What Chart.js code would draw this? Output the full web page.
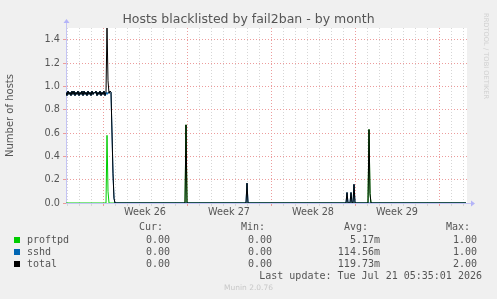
<!DOCTYPE html>
<html>
<head>
<meta charset="utf-8">
<title>Hosts blacklisted by fail2ban - by month</title>
<script src="https://cdn.jsdelivr.net/npm/chart.js@4.4.1/dist/chart.umd.min.js"></script>
<style>
  html, body { margin: 0; padding: 0; background: #f0f0f0; }
  #wrap { position: relative; width: 497px; height: 299px; overflow: hidden; }
  #chart { position: absolute; left: 0; top: 0; }
  #title { position: absolute; left: 0; top: 11px; width: 497px; text-align: center;
           font-family: "DejaVu Sans", sans-serif; font-size: 12.5px; line-height: 15px; color: #555; }
  .mono { position: absolute; font-family: "DejaVu Sans Mono", monospace; font-size: 10px;
          line-height: 12px; color: #555; white-space: pre; }
  .sq { position: absolute; width: 6px; height: 6px; }
  #munin { position: absolute; left: 0; width: 497px; top: 283px; text-align: center;
           font-family: "DejaVu Sans", sans-serif; font-size: 7.5px; line-height: 9px; color: #c8c8c8; }
  #rrd { position: absolute; left: 490px; top: 13px; transform: rotate(90deg); transform-origin: left top;
         font-family: "DejaVu Sans", sans-serif; font-size: 6.7px; line-height: 8px; color: #d0d0d0; white-space: pre; }
</style>
</head>
<body>
<div id="wrap">
  <canvas id="chart" width="497" height="299"></canvas>
  <div id="title">Hosts blacklisted by fail2ban - by month</div>
  <div id="legend"></div>
  <div id="munin">Munin 2.0.76</div>
  <div id="rrd">RRDTOOL / TOBI OETIKER</div>
</div>
<script>
/* ---- data (x = hours since start of week 26, one sample every 2h) ---- */
var hours = [
  -74, -72, -70, -68, -66, -64, -62, -60, -58, -56,
  -54, -52, -50, -48, -46, -44, -42, -40, -38, -36,
  -34, -32, -30, -28, -26, -24, -22, -20, -18, -16,
  -14, -12, -10,  -8,  -6,  -4,  -2,   0,   2,   4,
    6,   8,  10,  12,  14,  16,  18,  20,  22,  24,
  162, 164, 166, 168, 170,
  284, 286, 288, 290, 292,
  484, 486, 488, 490, 492, 494, 496, 498, 500, 502, 504, 506, 508,
  528, 530, 532, 534, 536, 538,
  726
];

var proftpd = [
  0, 0, 0, 0, 0, 0, 0, 0, 0, 0,
  0, 0, 0, 0, 0, 0, 0, 0, 0, 0,
  0, 0, 0, 0, 0, 0, 0, 0, 0, 0,
  0, 0, 0, 0, 0, 0, 0, 0, 0, 0,
  0, 0.58, 0.10, 0, 0, 0, 0, 0, 0, 0,
  0, 0, 0.67, 0, 0,
  0, 0, 0, 0, 0,
  0, 0, 0, 0, 0, 0, 0, 0, 0, 0, 0, 0, 0,
  0, 0, 0.63, 0.08, 0, 0,
  0
];

var sshd = [
  0.95, 0.92, 0.96, 0.93, 0.95, 0.92, 0.96, 0.93, 0.96, 0.92,
  0.95, 0.93, 0.96, 0.92, 0.95, 0.93, 0.96, 0.92, 0.96, 0.93,
  0.95, 0.92, 0.96, 0.93, 0.95, 0.92, 0.96, 0.93, 0.95, 0.94,
  0.96, 0.92, 0.95, 0.93, 0.96, 0.92, 0.95, 0.93, 0.96, 0.92,
  0.95, 0.93, 0.95, 0.94, 0.96, 0.95, 0.60, 0.25, 0.04, 0,
  0, 0, 0, 0, 0,
  0, 0, 0.17, 0, 0,
  0, 0, 0.09, 0, 0, 0, 0.09, 0, 0, 0.16, 0, 0, 0,
  0, 0, 0, 0, 0, 0,
  0
];

var total = [
  0.95, 0.92, 0.96, 0.93, 0.95, 0.92, 0.96, 0.93, 0.96, 0.92,
  0.95, 0.93, 0.96, 0.92, 0.95, 0.93, 0.96, 0.92, 0.96, 0.93,
  0.95, 0.92, 0.96, 0.93, 0.95, 0.92, 0.96, 0.93, 0.95, 0.94,
  0.96, 0.92, 0.95, 0.93, 0.96, 0.92, 0.95, 0.93, 0.96, 0.92,
  0.95, 1.51, 1.05, 0.94, 0.96, 0.95, 0.60, 0.25, 0.04, 0,
  0, 0, 0.67, 0, 0,
  0, 0, 0.17, 0, 0,
  0, 0, 0.09, 0, 0, 0, 0.09, 0, 0, 0.16, 0, 0, 0,
  0, 0, 0.63, 0.08, 0, 0,
  0
];

var weekLabels = ['Week 26', 'Week 27', 'Week 28', 'Week 29'];
var weekMidHours = [84, 252, 420, 588];
var yLabels = ['0.0', '0.2', '0.4', '0.6', '0.8', '1.0', '1.2', '1.4'];

/* legend / stats */
var seriesNames = ['proftpd', 'sshd', 'total'];
var seriesColors = ['#00cc00', '#0066b3', '#000000'];
var statCur = ['0.00', '0.00', '0.00'];
var statMin = ['0.00', '0.00', '0.00'];
var statAvg = ['5.17m', '114.56m', '119.73m'];
var statMax = ['1.00', '1.00', '2.00'];
var lastUpdate = 'Last update: Tue Jul 21 05:35:01 2026';

var GRID = '#d6d6d6';
var MGRID = '#ec9c9c';
var AXIS = '#c4c4f4';

function toPoints(values) {
  return values.map(function(v, i) { return { x: hours[i], y: v }; });
}

/* white canvas + rrdtool style axis arrows */
var muninFrame = {
  id: 'muninFrame',
  beforeDraw: function(chart) {
    var a = chart.chartArea, ctx = chart.ctx;
    ctx.save();
    ctx.fillStyle = '#ffffff';
    ctx.fillRect(a.left, a.top, a.right - a.left, a.bottom - a.top);
    ctx.restore();
  },
  afterDraw: function(chart) {
    var a = chart.chartArea, ctx = chart.ctx;
    var x0 = Math.round(a.left) + 0.5, y0 = Math.round(a.bottom) + 0.5;
    ctx.save();
    ctx.strokeStyle = AXIS;
    ctx.fillStyle = '#b4b4f8';
    ctx.lineWidth = 1;
    ctx.beginPath();
    ctx.moveTo(x0, a.top);
    ctx.lineTo(x0, a.top - 5);
    ctx.moveTo(a.right, y0);
    ctx.lineTo(a.right + 4, y0);
    ctx.stroke();
    ctx.beginPath();
    ctx.moveTo(x0 - 3, a.top - 5);
    ctx.lineTo(x0 + 3, a.top - 5);
    ctx.lineTo(x0, a.top - 9);
    ctx.closePath();
    ctx.fill();
    ctx.beginPath();
    ctx.moveTo(a.right + 4, y0 - 3);
    ctx.lineTo(a.right + 4, y0 + 3);
    ctx.lineTo(a.right + 8, y0);
    ctx.closePath();
    ctx.fill();
    ctx.restore();
  }
};

function buildLegend() {
  var el = document.getElementById('legend');
  var html = '';
  var heads = [['Cur:', 163], ['Min:', 265], ['Avg:', 368], ['Max:', 470]];
  heads.forEach(function(h) {
    html += '<div class="mono" style="top:221px;right:' + (497 - h[1]) + 'px">' + h[0] + '</div>';
  });
  var rowTop = [234, 246, 258];
  seriesNames.forEach(function(name, i) {
    var t = rowTop[i];
    html += '<div class="sq" style="left:14px;top:' + (t + 3) + 'px;background:' + seriesColors[i] + '"></div>';
    html += '<div class="mono" style="left:27px;top:' + t + 'px">' + name + '</div>';
    html += '<div class="mono" style="top:' + t + 'px;right:' + (497 - 170) + 'px">' + statCur[i] + '</div>';
    html += '<div class="mono" style="top:' + t + 'px;right:' + (497 - 272) + 'px">' + statMin[i] + '</div>';
    html += '<div class="mono" style="top:' + t + 'px;right:' + (497 - 380) + 'px">' + statAvg[i] + '</div>';
    html += '<div class="mono" style="top:' + t + 'px;right:' + (497 - 477) + 'px">' + statMax[i] + '</div>';
  });
  html += '<div class="mono" style="top:270px;right:' + (497 - 482) + 'px">' + lastUpdate + '</div>';
  el.innerHTML = html;
}

function drawChart() {
  var canvas = document.getElementById('chart');
  if (typeof Chart === 'undefined') return;

  var tickFont = { family: 'DejaVu Sans', size: 9.7 };

  new Chart(canvas, {
    type: 'line',
    data: {
      datasets: [
        { label: 'proftpd', data: toPoints(proftpd), borderColor: seriesColors[0], order: 3 },
        { label: 'sshd',    data: toPoints(sshd),    borderColor: seriesColors[1], order: 2 },
        { label: 'total',   data: toPoints(total),   borderColor: seriesColors[2], order: 1 }
      ]
    },
    options: {
      responsive: false,
      animation: false,
      layout: { padding: { left: 0, right: 30, top: 28, bottom: 0 } },
      elements: {
        line: { borderWidth: 1, tension: 0 },
        point: { radius: 0, hoverRadius: 0 }
      },
      plugins: {
        legend: { display: false },
        title: { display: false },
        tooltip: { enabled: false }
      },
      scales: {
        x: {
          type: 'linear',
          min: -74,
          max: 728,
          afterFit: function(scale) { scale.height = 96; },
          afterBuildTicks: function(scale) {
            var t = [];
            for (var h = -72; h <= 720; h += 24) t.push({ value: h });
            weekMidHours.forEach(function(h) { t.push({ value: h }); });
            t.sort(function(p, q) { return p.value - q.value; });
            scale.ticks = t;
          },
          ticks: {
            autoSkip: false,
            maxRotation: 0,
            padding: 1,
            color: '#555',
            font: tickFont,
            callback: function(value) {
              var i = weekMidHours.indexOf(value);
              return i >= 0 ? weekLabels[i] : '';
            }
          },
          grid: {
            tickLength: 3,
            color: function(ctx) {
              var v = ctx.tick ? ctx.tick.value : 0;
              if (weekMidHours.indexOf(v) >= 0) return 'rgba(0,0,0,0)';
              return (v % 168 === 0) ? MGRID : GRID;
            },
            tickColor: function(ctx) {
              var v = ctx.tick ? ctx.tick.value : 0;
              if (weekMidHours.indexOf(v) >= 0) return 'rgba(0,0,0,0)';
              return (v % 168 === 0) ? MGRID : GRID;
            }
          },
          border: { display: true, color: AXIS, dash: [1, 2] }
        },
        y: {
          min: 0,
          max: 1.5,
          afterFit: function(scale) { scale.width = 66; },
          title: {
            display: true,
            text: 'Number of hosts',
            color: '#555',
            font: { family: 'DejaVu Sans', size: 10 },
            padding: { top: 4, bottom: 0 }
          },
          ticks: {
            stepSize: 0.1,
            padding: 3,
            color: '#555',
            font: tickFont,
            callback: function(value) {
              var v = Math.round(value * 10);
              return (v % 2 === 0) ? (yLabels[v / 2] || '') : '';
            }
          },
          grid: {
            tickLength: 3,
            color: function(ctx) {
              var v = ctx.tick ? Math.round(ctx.tick.value * 10) : 0;
              return (v % 2 === 0) ? MGRID : GRID;
            },
            tickColor: function(ctx) {
              var v = ctx.tick ? Math.round(ctx.tick.value * 10) : 0;
              return (v % 2 === 0) ? MGRID : GRID;
            }
          },
          border: { display: true, color: AXIS, dash: [1, 2] }
        }
      }
    },
    plugins: [muninFrame]
  });
}

document.addEventListener('DOMContentLoaded', function() {
  buildLegend();
  drawChart();
});
</script>
</body>
</html>
